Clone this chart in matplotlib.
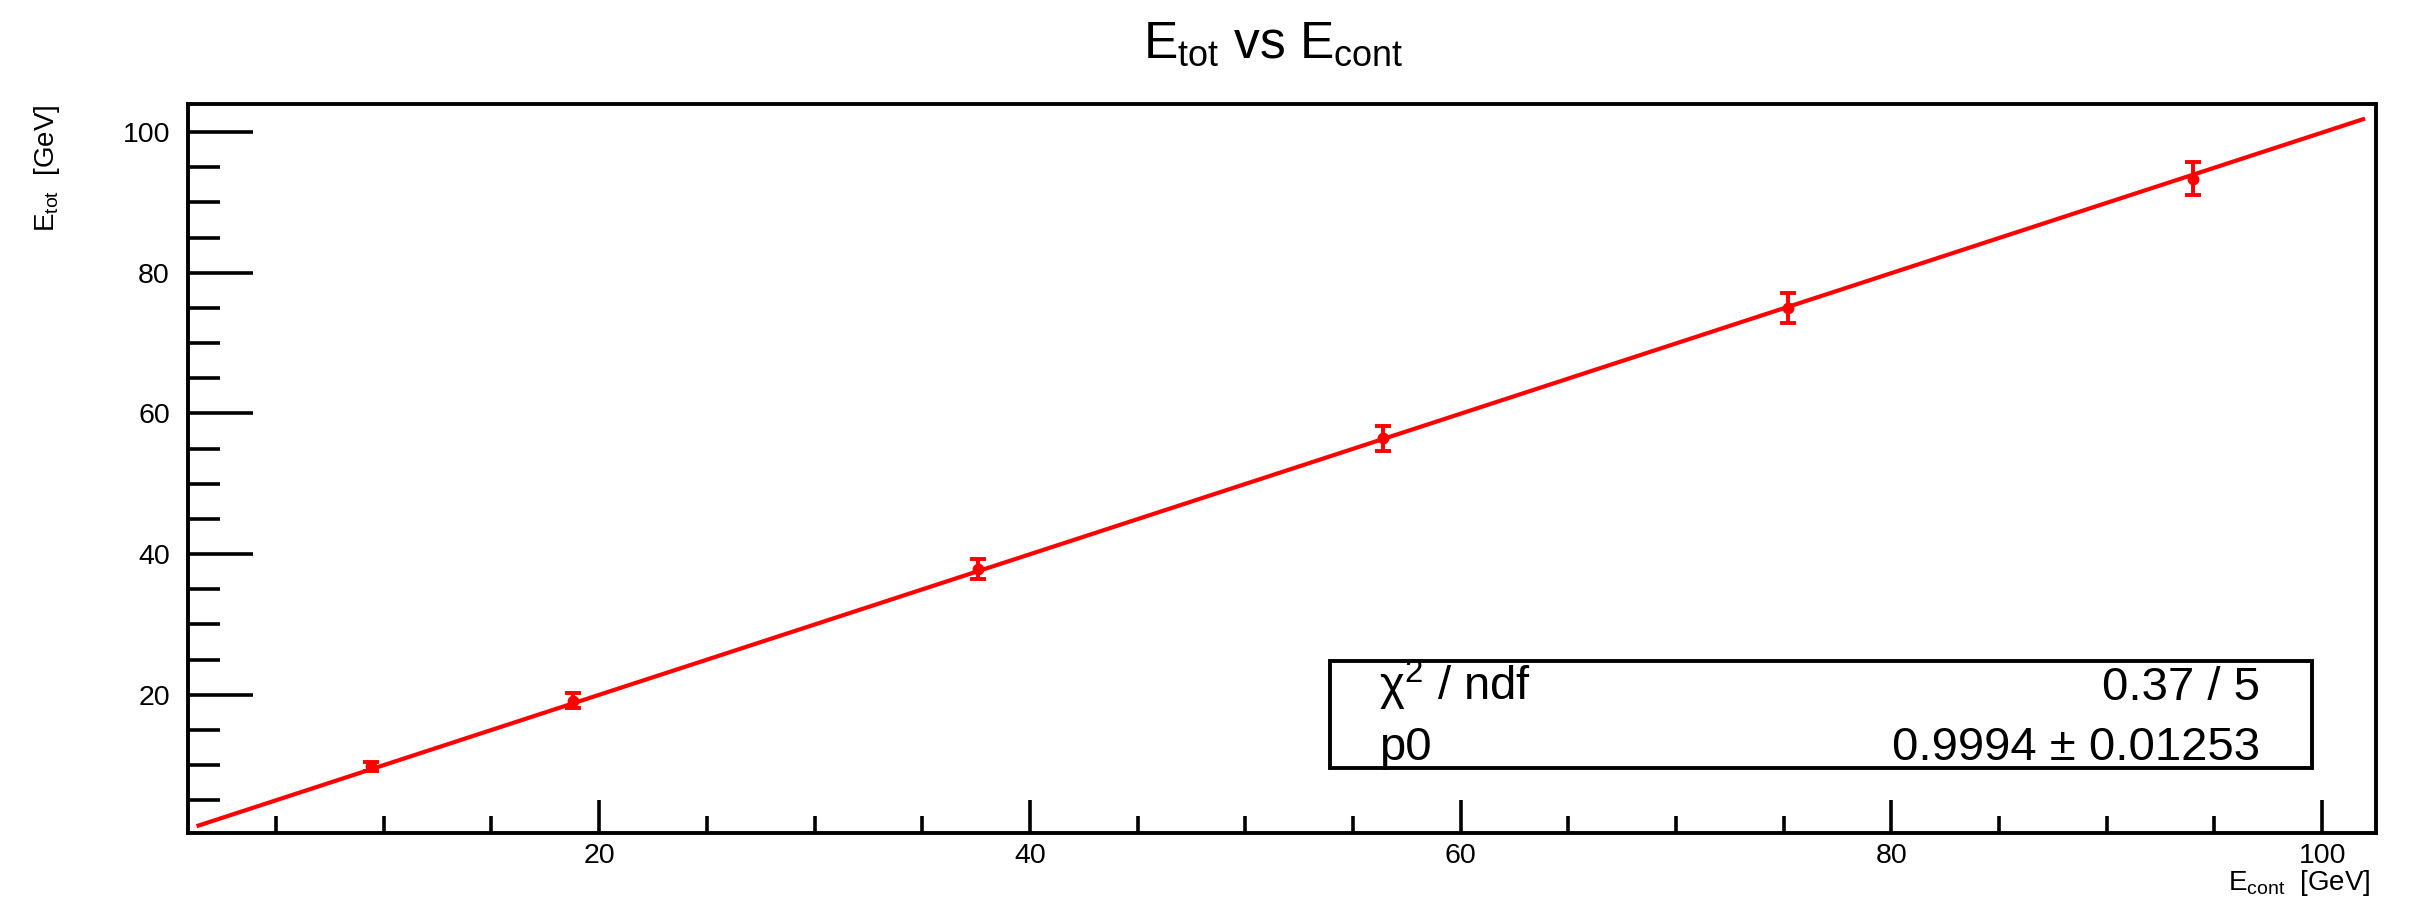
import numpy as np
import matplotlib
matplotlib.use("Agg")
import matplotlib.pyplot as plt
from matplotlib.patches import Rectangle
from matplotlib.ticker import MultipleLocator

plt.rcParams['font.family'] = ['Liberation Sans', 'DejaVu Sans']
plt.rcParams['mathtext.default'] = 'regular'

# Dataset
E_cont = [9.4, 18.8, 37.6, 56.4, 75.2, 94.0]
E_tot = [9.8, 19.15, 37.9, 56.5, 75.0, 93.4]
E_tot_err = [0.67, 1.07, 1.42, 1.78, 2.08, 2.3]

# fit result (pol1 through origin)
p0 = 0.9994
p0_err = 0.01253
chi2 = 0.37
ndf = 5
fit_range = [1.4, 101.9]

fig = plt.figure(figsize=(24.22, 9.01), dpi=100, facecolor='white')
ax = fig.add_axes([188 / 2422, 1 - 833 / 901, 2188 / 2422, 729 / 901])

xf = np.linspace(fit_range[0], fit_range[1], 200)
ax.plot(xf, p0 * xf, color='red', linewidth=3.0, zorder=2)
ax.errorbar(E_cont, E_tot, yerr=E_tot_err, fmt='o', color='red', markersize=7.5,
            elinewidth=2.8, capsize=6, capthick=2.8, zorder=3)

ax.set_xlim(0.91, 102.5)
ax.set_ylim(0.34, 104.0)

ax.xaxis.set_major_locator(MultipleLocator(20))
ax.xaxis.set_minor_locator(MultipleLocator(5))
ax.yaxis.set_major_locator(MultipleLocator(20))
ax.yaxis.set_minor_locator(MultipleLocator(5))

ax.tick_params(axis='both', which='both', direction='in', width=2.6, labelsize=20.5)
ax.tick_params(axis='y', which='major', length=47, pad=13)
ax.tick_params(axis='y', which='minor', length=23)
ax.tick_params(axis='x', which='major', length=24, pad=7)
ax.tick_params(axis='x', which='minor', length=12)
ax.tick_params(top=False, right=False, which='both')

for s in ax.spines.values():
    s.set_linewidth(2.8)

# title and axis labels (ROOT style placement)
fig.text(0.5256, 1 - 58 / 901, r'E$_{tot}$ vs E$_{cont}$', fontsize=37,
         ha='center', va='baseline')
fig.text(47 / 2422, 1 - 104 / 901, r'E$_{tot}$  [GeV]', fontsize=20,
         rotation=90, ha='center', va='top')
fig.text(2371 / 2422, 1 - 890 / 901, r'E$_{cont}$  [GeV]', fontsize=20,
         ha='right', va='baseline')

# stats box
fig.patches.append(Rectangle((1330 / 2422, 1 - 768 / 901), 982 / 2422, 107 / 901,
                             transform=fig.transFigure, facecolor='white',
                             edgecolor='black', linewidth=2.8, zorder=5))
fig.text(1379 / 2422, 1 - 700 / 901, r'χ$^{2}$ / ndf', fontsize=34, ha='left', va='baseline', zorder=6)
fig.text(2260 / 2422, 1 - 700 / 901, '%.2f / %d' % (chi2, ndf), fontsize=34, ha='right', va='baseline', zorder=6)
fig.text(1379 / 2422, 1 - 760 / 901, 'p0', fontsize=34, ha='left', va='baseline', zorder=6)
fig.text(2260 / 2422, 1 - 760 / 901, '%.4f ± %.5f' % (p0, p0_err), fontsize=34, ha='right', va='baseline', zorder=6)

fig.savefig('out.png', dpi=100, facecolor='white')
